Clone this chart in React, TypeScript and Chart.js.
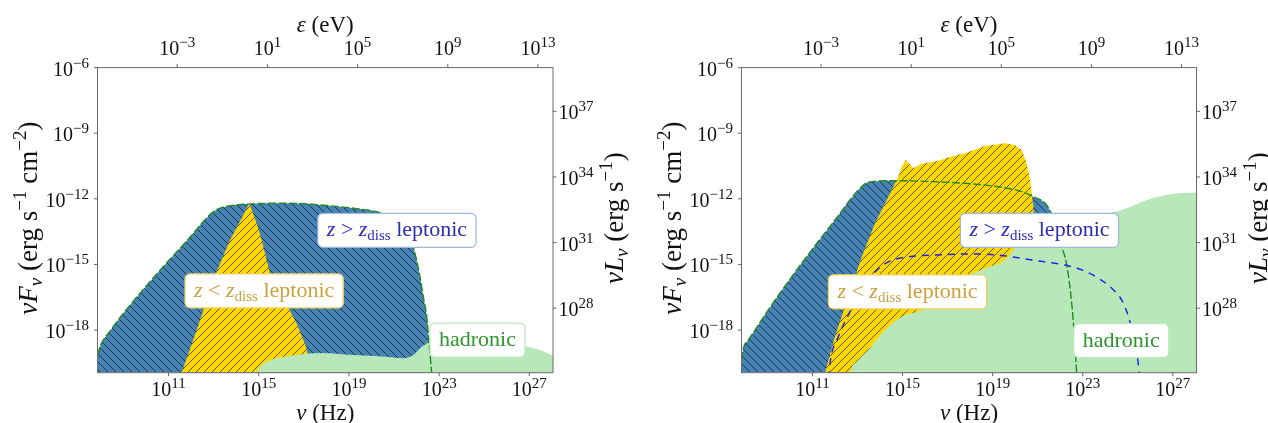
import React, { useEffect, useRef } from 'react';
import { Chart, registerables } from 'chart.js';

Chart.register(...registerables);

// ---------- axis ranges / ticks ----------
const H_EV = 4.135667e-15; // Planck constant, eV s
const NU_MIN_EXP = 7.85;
const NU_MAX_EXP = 28.05;
const F_MIN_EXP = -19.95;
const F_MAX_EXP = -6;
const LUM_OFFSET_EXP = 45; // nuL_nu = 4 pi d^2 nuF_nu

const nuTickExps = [11, 15, 19, 23, 27];
const epsTickExps = [-3, 1, 5, 9, 13];
const fluxTickExps = [-18, -15, -12, -9, -6];
const lumTickExps = [28, 31, 34, 37];

// ---------- panel A (left) : log10(nu/Hz), log10(nuF_nu) ----------
const aBlueNu = [7.85, 7.95, 8.1, 8.4, 9.0, 10.5, 12.0, 12.55, 12.95, 13.2, 13.6, 14.5, 16.0, 17.0, 17.72, 19.19, 20.38, 20.8, 21.2, 21.5, 21.85, 22.0, 22.15, 22.3, 22.45, 22.55, 22.67, 22.75];
const aBlueF = [-19.15, -18.8, -18.47, -18.05, -17.23, -15.41, -13.7, -13.03, -12.62, -12.46, -12.34, -12.24, -12.2, -12.22, -12.28, -12.43, -12.63, -12.8, -13.1, -13.5, -14.19, -14.8, -15.56, -16.48, -17.39, -18.53, -19.95, -20.6];

const aYellowNu = [11.5, 11.58, 12.25, 13.1, 13.73, 14.13, 14.58, 14.91, 15.13, 15.31, 15.5, 16.68, 17.1, 17.2, 17.3];
const aYellowF = [-20.4, -19.95, -18.0, -15.41, -13.88, -13.12, -12.2, -13.12, -13.88, -14.64, -15.41, -17.7, -18.76, -19.3, -20.4];

const aGreenNu = [14.85, 14.91, 15.0, 15.2, 15.5, 15.9, 16.68, 17.72, 19.19, 20.67, 21.41, 21.85, 22.15, 22.45, 22.74, 23.5, 25.0, 26.0, 26.76, 27.47, 27.99, 28.1];
const aGreenF = [-20.4, -19.95, -19.75, -19.55, -19.38, -19.27, -19.14, -19.05, -19.14, -19.22, -19.29, -19.14, -18.84, -18.61, -18.53, -18.52, -18.57, -18.64, -18.73, -18.91, -19.14, -19.2];

// ---------- panel B (right) ----------
const bBlueNu = [7.85, 7.93, 8.15, 8.45, 9.04, 10.52, 12.0, 13.04, 13.48, 14.67, 16.0, 17.77, 19.25, 20.29, 20.81, 21.33, 21.59, 21.8, 22.07, 22.29, 22.51, 22.66, 22.73, 22.8];
const bBlueF = [-19.37, -18.84, -18.46, -18.0, -17.08, -14.95, -12.97, -11.6, -11.24, -11.17, -11.2, -11.29, -11.45, -11.67, -11.9, -12.2, -12.63, -13.2, -14.19, -15.03, -16.78, -18.76, -19.95, -20.6];

const bYellowNu = [11.45, 11.56, 12.0, 12.59, 13.19, 13.78, 14.37, 14.81, 14.96, 15.14, 15.29, 15.48, 15.85, 16.44, 17.18, 17.77, 18.66, 19.55, 19.99, 20.29, 20.51, 20.66, 20.81, 20.86, 20.9];
const bYellowF = [-20.4, -19.95, -18.3, -16.48, -14.65, -13.12, -11.9, -10.99, -10.53, -10.22, -10.38, -10.6, -10.38, -10.3, -10.07, -9.92, -9.58, -9.46, -9.54, -9.77, -10.38, -11.14, -12.36, -13.3, -20.4];

const bGreenNu = [12.6, 12.67, 13.04, 13.48, 14.22, 14.96, 15.85, 16.8, 17.77, 18.66, 19.55, 20.0, 21.0, 22.0, 23.0, 23.99, 24.73, 26.06, 27.25, 28.02, 28.1];
const bGreenF = [-20.4, -19.95, -19.37, -18.91, -18.0, -17.39, -17.08, -16.3, -15.56, -15.18, -14.8, -14.25, -13.75, -13.4, -13.0, -12.69, -12.51, -11.98, -11.75, -11.72, -11.72];

const bDashNu = [11.72, 11.78, 12.15, 12.67, 13.2, 13.78, 14.37, 15.26, 16.44, 17.92, 19.25, 20.74, 22.22, 22.96, 23.69, 24.29, 24.73, 25.03, 25.25, 25.47, 25.52];
const bDashF = [-20.2, -19.52, -18.3, -17.16, -16.1, -15.33, -14.88, -14.65, -14.57, -14.52, -14.57, -14.8, -15.03, -15.25, -15.63, -16.09, -16.63, -17.39, -18.3, -19.6, -20.2];

// ---------- styles ----------
const FAMILY = '"Liberation Serif", "DejaVu Serif", serif';
const BLUE_FILL = '#4682b4';
const YELLOW_FILL = '#ffd700';
const GREEN_FILL = '#b8e8b9';
const GREEN_LINE = '#1d8a1d';
const BLUE_DASH = '#2323e6';

type Run = { t: string; size: number; italic?: boolean; dy?: number };

const fontOf = (r: Run) => `${r.italic ? 'italic ' : ''}${r.size}px ${FAMILY}`;

function measureRuns(ctx: CanvasRenderingContext2D, runs: Run[]) {
  let w = 0;
  for (const r of runs) {
    ctx.font = fontOf(r);
    w += ctx.measureText(r.t).width;
  }
  return w;
}

function drawRuns(ctx: CanvasRenderingContext2D, runs: Run[], x: number, y: number, align: 'left' | 'center' | 'right', color: string, rot = 0) {
  ctx.save();
  ctx.translate(x, y);
  if (rot) ctx.rotate(rot);
  const w = measureRuns(ctx, runs);
  let cx = align === 'left' ? 0 : align === 'center' ? -w / 2 : -w;
  ctx.textAlign = 'left';
  ctx.textBaseline = 'alphabetic';
  ctx.fillStyle = color;
  for (const r of runs) {
    ctx.font = fontOf(r);
    ctx.fillText(r.t, cx, r.dy || 0);
    cx += ctx.measureText(r.t).width;
  }
  ctx.restore();
}

const powRuns = (e: number): Run[] => [
  { t: '10', size: 20 },
  { t: e < 0 ? '\u2212' + Math.abs(e) : String(e), size: 15, dy: -8 },
];

const gtRuns: Run[] = [
  { t: 'z', size: 22, italic: true },
  { t: ' > ', size: 22 },
  { t: 'z', size: 22, italic: true },
  { t: 'diss', size: 15, dy: 4 },
  { t: ' leptonic', size: 22 },
];
const ltRuns: Run[] = [
  { t: 'z', size: 22, italic: true },
  { t: ' < ', size: 22 },
  { t: 'z', size: 22, italic: true },
  { t: 'diss', size: 15, dy: 4 },
  { t: ' leptonic', size: 22 },
];
const hadRuns: Run[] = [{ t: 'hadronic', size: 22 }];

type Label = { runs: Run[]; at: [number, number]; color: string; edge: string };

function hatchPattern(ctx: CanvasRenderingContext2D, bg: string, back: boolean) {
  const s = 8;
  const c = document.createElement('canvas');
  c.width = s;
  c.height = s;
  const g = c.getContext('2d')!;
  g.fillStyle = bg;
  g.fillRect(0, 0, s, s);
  g.strokeStyle = 'rgba(0,0,0,0.85)';
  g.lineWidth = 0.7;
  g.beginPath();
  if (back) {
    g.moveTo(-1, -1); g.lineTo(s + 1, s + 1);
    g.moveTo(-1, s - 1); g.lineTo(1, s + 1);
    g.moveTo(s - 1, -1); g.lineTo(s + 1, 1);
  } else {
    g.moveTo(-1, s + 1); g.lineTo(s + 1, -1);
    g.moveTo(-1, 1); g.lineTo(1, -1);
    g.moveTo(s - 1, s + 1); g.lineTo(s + 1, s - 1);
  }
  g.stroke();
  return ctx.createPattern(c, 'repeat')!;
}

const pts = (nu: number[], f: number[]) => nu.map((v, i) => ({ x: Math.pow(10, v), y: Math.pow(10, f[i]) }));

type PanelSpec = {
  left: number;
  padding: { left: number; right: number; top: number; bottom: number };
  blueNu: number[]; blueF: number[];
  yellowNu: number[]; yellowF: number[];
  greenNu: number[]; greenF: number[];
  dashNu?: number[]; dashF?: number[];
  labels: Label[];
};

const panelA: PanelSpec = {
  left: 0,
  padding: { left: 97.5, right: 81, top: 67.6, bottom: 50.3 },
  blueNu: aBlueNu, blueF: aBlueF,
  yellowNu: aYellowNu, yellowF: aYellowF,
  greenNu: aGreenNu, greenF: aGreenF,
  labels: [
    { runs: gtRuns, at: [21.13, -13.44], color: '#2c2cb4', edge: '#9bb9d9' },
    { runs: ltRuns, at: [15.24, -16.21], color: '#c9a23e', edge: '#f0d258' },
    { runs: hadRuns, at: [24.7, -18.46], color: '#2b962b', edge: '#bde8bd' },
  ],
};

const panelB: PanelSpec = {
  left: 634,
  padding: { left: 107.5, right: 71.5, top: 67.6, bottom: 50.3 },
  blueNu: bBlueNu, blueF: bBlueF,
  yellowNu: bYellowNu, yellowF: bYellowF,
  greenNu: bGreenNu, greenF: bGreenF,
  dashNu: bDashNu, dashF: bDashF,
  labels: [
    { runs: gtRuns, at: [21.08, -13.44], color: '#2c2cb4', edge: '#9bb9d9' },
    { runs: ltRuns, at: [15.22, -16.25], color: '#c9a23e', edge: '#f0d258' },
    { runs: hadRuns, at: [24.71, -18.48], color: '#2b962b', edge: '#bde8bd' },
  ],
};

function roundRect(ctx: CanvasRenderingContext2D, x: number, y: number, w: number, h: number, r: number) {
  ctx.beginPath();
  ctx.moveTo(x + r, y);
  ctx.lineTo(x + w - r, y);
  ctx.arcTo(x + w, y, x + w, y + r, r);
  ctx.lineTo(x + w, y + h - r);
  ctx.arcTo(x + w, y + h, x + w - r, y + h, r);
  ctx.lineTo(x + r, y + h);
  ctx.arcTo(x, y + h, x, y + h - r, r);
  ctx.lineTo(x, y + r);
  ctx.arcTo(x, y, x + r, y, r);
  ctx.closePath();
}

function Panel({ spec }: { spec: PanelSpec }) {
  const ref = useRef<HTMLCanvasElement>(null);
  useEffect(() => {
    const canvas = ref.current!;
    const ctx = canvas.getContext('2d')!;
    const bluePat = hatchPattern(ctx, BLUE_FILL, true);
    const yellowPat = hatchPattern(ctx, YELLOW_FILL, false);

    const common = { pointRadius: 0, pointHoverRadius: 0, clip: 0, xAxisID: 'x', yAxisID: 'y' };
    const datasets: any[] = [];
    if (spec.dashNu && spec.dashF) {
      datasets.push({
        ...common, data: pts(spec.dashNu, spec.dashF), borderColor: BLUE_DASH, borderWidth: 1.5,
        borderDash: [7, 6], fill: false, cubicInterpolationMode: 'monotone', order: 0,
      });
    }
    datasets.push(
      {
        ...common, data: pts(spec.blueNu, spec.blueF), borderColor: GREEN_LINE, borderWidth: 1.4,
        borderDash: [8, 2.5], fill: false, cubicInterpolationMode: 'monotone', order: 1,
      },
      {
        ...common, data: pts(spec.greenNu, spec.greenF), borderColor: 'rgba(0,0,0,0)', borderWidth: 1,
        backgroundColor: GREEN_FILL, fill: 'start', cubicInterpolationMode: 'monotone', order: 2,
      },
      {
        ...common, data: pts(spec.yellowNu, spec.yellowF), borderColor: 'rgba(0,0,0,0)', borderWidth: 1,
        backgroundColor: yellowPat, fill: 'start', tension: 0, order: 3,
      },
      {
        ...common, data: pts(spec.blueNu, spec.blueF), borderColor: 'rgba(0,0,0,0)', borderWidth: 1,
        backgroundColor: bluePat, fill: 'start', cubicInterpolationMode: 'monotone', order: 4,
      },
    );

    const overlay = {
      id: 'overlay',
      afterDraw(chart: any) {
        const c: CanvasRenderingContext2D = chart.ctx;
        const a = chart.chartArea;
        const sx = chart.scales.x, sy = chart.scales.y, sxt = chart.scales.xTop, syr = chart.scales.yRight;
        c.save();
        // frame
        c.strokeStyle = '#6a6a6a';
        c.lineWidth = 1;
        c.strokeRect(a.left, a.top, a.right - a.left, a.bottom - a.top);
        // ticks
        c.strokeStyle = '#555';
        c.lineWidth = 0.9;
        c.beginPath();
        for (const e of nuTickExps) {
          const px = sx.getPixelForValue(Math.pow(10, e));
          c.moveTo(px, a.bottom); c.lineTo(px, a.bottom + 3.5);
        }
        for (const e of epsTickExps) {
          const px = sxt.getPixelForValue(Math.pow(10, e));
          c.moveTo(px, a.top); c.lineTo(px, a.top - 3.5);
        }
        for (const e of fluxTickExps) {
          const py = sy.getPixelForValue(Math.pow(10, e));
          c.moveTo(a.left, py); c.lineTo(a.left - 3.5, py);
        }
        for (const e of lumTickExps) {
          const py = syr.getPixelForValue(Math.pow(10, e));
          c.moveTo(a.right, py); c.lineTo(a.right + 3.5, py);
        }
        c.stroke();
        // tick labels
        const tc = '#111';
        for (const e of nuTickExps) drawRuns(c, powRuns(e), sx.getPixelForValue(Math.pow(10, e)), a.bottom + 23.5, 'center', tc);
        for (const e of epsTickExps) drawRuns(c, powRuns(e), sxt.getPixelForValue(Math.pow(10, e)), a.top - 12.5, 'center', tc);
        for (const e of fluxTickExps) drawRuns(c, powRuns(e), a.left - 8.5, sy.getPixelForValue(Math.pow(10, e)) + 8, 'right', tc);
        for (const e of lumTickExps) drawRuns(c, powRuns(e), a.right + 5.5, syr.getPixelForValue(Math.pow(10, e)) + 8, 'left', tc);
        // axis titles
        const cxm = (a.left + a.right) / 2;
        const cym = (a.top + a.bottom) / 2 - 2;
        drawRuns(c, [{ t: '\u03bd', size: 23, italic: true }, { t: ' (Hz)', size: 23 }], cxm, 420, 'center', tc);
        drawRuns(c, [{ t: '\u03b5', size: 23, italic: true }, { t: ' (eV)', size: 23 }], cxm, 32, 'center', tc);
        drawRuns(c, [
          { t: '\u03bd', size: 27, italic: true }, { t: 'F', size: 27, italic: true }, { t: '\u03bd', size: 19, italic: true, dy: 5 },
          { t: ' (erg s', size: 27 }, { t: '\u22121', size: 19, dy: -11 }, { t: ' cm', size: 27 }, { t: '\u22122', size: 19, dy: -11 }, { t: ')', size: 27 },
        ], a.left - 61, cym, 'center', tc, -Math.PI / 2);
        drawRuns(c, [
          { t: '\u03bd', size: 27, italic: true }, { t: 'L', size: 27, italic: true }, { t: '\u03bd', size: 19, italic: true, dy: 5 },
          { t: ' (erg s', size: 27 }, { t: '\u22121', size: 19, dy: -11 }, { t: ')', size: 27 },
        ], a.right + 70, cym, 'center', tc, -Math.PI / 2);
        // annotation boxes
        for (const lb of spec.labels) {
          const px = sx.getPixelForValue(Math.pow(10, lb.at[0]));
          const py = sy.getPixelForValue(Math.pow(10, lb.at[1]));
          const w = measureRuns(c, lb.runs) + 18;
          const h = 34;
          roundRect(c, px - w / 2, py - h / 2, w, h, 5);
          c.fillStyle = '#ffffff';
          c.fill();
          c.strokeStyle = lb.edge;
          c.lineWidth = 1.2;
          c.stroke();
          drawRuns(c, lb.runs, px, py + 6, 'center', lb.color);
        }
        c.restore();
      },
    };

    const chart = new Chart(canvas, {
      type: 'line',
      data: { datasets },
      options: {
        animation: false,
        responsive: false,
        maintainAspectRatio: false,
        devicePixelRatio: 1,
        layout: { padding: spec.padding },
        plugins: { legend: { display: false }, tooltip: { enabled: false } },
        events: [],
        scales: {
          x: { type: 'logarithmic', display: false, position: 'bottom', axis: 'x', min: Math.pow(10, NU_MIN_EXP), max: Math.pow(10, NU_MAX_EXP) },
          y: { type: 'logarithmic', display: false, position: 'left', axis: 'y', min: Math.pow(10, F_MIN_EXP), max: Math.pow(10, F_MAX_EXP) },
          xTop: { type: 'logarithmic', display: false, position: 'top', axis: 'x', min: Math.pow(10, NU_MIN_EXP) * H_EV, max: Math.pow(10, NU_MAX_EXP) * H_EV },
          yRight: { type: 'logarithmic', display: false, position: 'right', axis: 'y', min: Math.pow(10, F_MIN_EXP + LUM_OFFSET_EXP), max: Math.pow(10, F_MAX_EXP + LUM_OFFSET_EXP) },
        },
      } as any,
      plugins: [overlay],
    });
    return () => chart.destroy();
  }, [spec]);
  return (
    <canvas
      ref={ref}
      width={634}
      height={423}
      style={{ position: 'absolute', left: spec.left, top: 0, width: 634, height: 423 }}
    />
  );
}

export default function App() {
  return (
    <div style={{ position: 'fixed', left: 0, top: 0, width: 1268, height: 423, background: '#ffffff', overflow: 'hidden' }}>
      <Panel spec={panelA} />
      <Panel spec={panelB} />
    </div>
  );
}
